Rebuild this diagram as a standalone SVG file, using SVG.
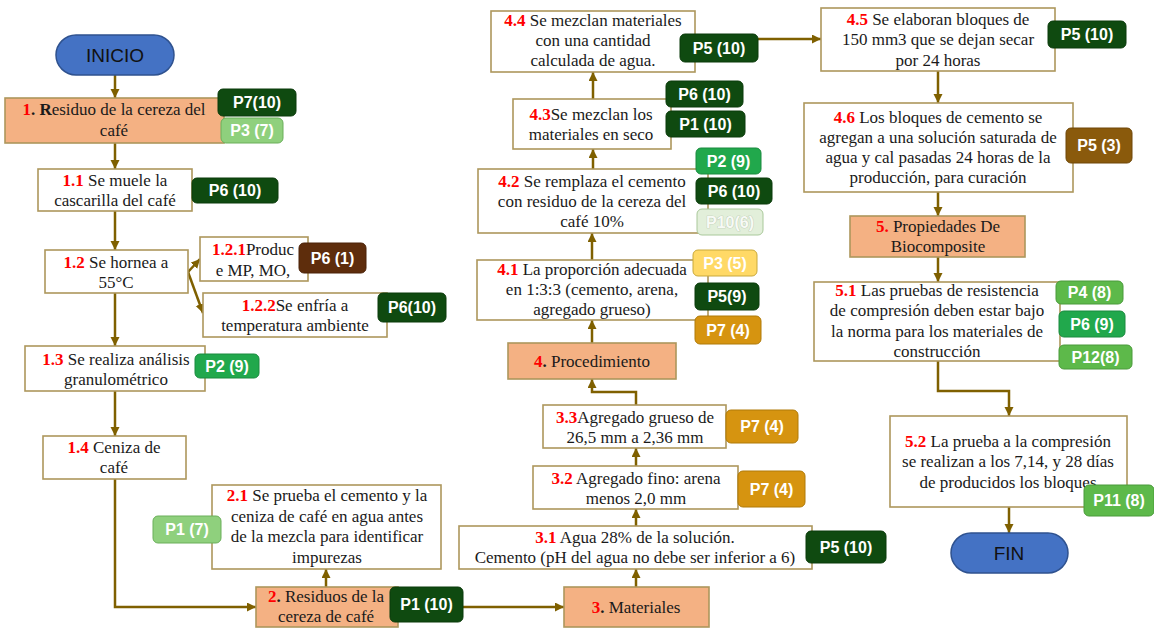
<svg xmlns="http://www.w3.org/2000/svg" width="1154" height="628" viewBox="0 0 1154 628">
<defs>
<marker id="ah" markerUnits="userSpaceOnUse" markerWidth="10" markerHeight="10" refX="9" refY="4.5" orient="auto">
<path d="M0,0 L9,4.5 L0,9 z" fill="#7F6000"/>
</marker>
<style>
.box{fill:#fff;stroke:#AD975C;stroke-width:1.6}
.pbox{fill:#F4B183;stroke:#AD975C;stroke-width:1.6}
.t{font-family:"Liberation Serif",serif;font-size:17px;fill:#1a1a1a;text-anchor:middle}
.n{fill:#FF0000;font-weight:bold}
.b{font-weight:bold}
.term{fill:#4472C4;stroke:#2F528F;stroke-width:1.5}
.tt{font-family:"Liberation Sans",sans-serif;font-size:19px;fill:#111;text-anchor:middle}
.c{fill:none;stroke:#7F6000;stroke-width:2.5;marker-end:url(#ah)}
.tg{font-family:"Liberation Sans",sans-serif;font-weight:bold;font-size:16px;fill:#fff;text-anchor:middle}
.dk{fill:#0F4A10;stroke:#0A3A0A;stroke-width:1}
.lg{fill:#8FD07D;stroke:#6AAF5A;stroke-width:1}
.md{fill:#21A84C;stroke:#1A8A3E;stroke-width:1}
.gr{fill:#5DB94A;stroke:#4A9A3A;stroke-width:1}
.br{fill:#5E2D0C;stroke:#4A2208;stroke-width:1}
.ob{fill:#8A5A0C;stroke:#6E4708;stroke-width:1}
.or{fill:#D69410;stroke:#B07A08;stroke-width:1}
.ye{fill:#FFD966;stroke:#C9A93A;stroke-width:1}
.pa{fill:#E2EFDA;stroke:#A9C89A;stroke-width:1}
.pat{fill:#F7FAF5;stroke:#B5C4AD;stroke-width:0.7;paint-order:stroke}
</style>
</defs>
<rect width="1154" height="628" fill="#fff"/>

<g id="connectors">
<path class="c" d="M115,75 V98"/>
<path class="c" d="M115,143 V169"/>
<path class="c" d="M115,211 V250"/>
<path class="c" d="M188,272 L200,259"/>
<path class="c" d="M188,272 L203,313"/>
<path class="c" d="M115,293 V346"/>
<path class="c" d="M115,391 V436"/>
<path class="c" d="M115,479 V607 H256"/>
<path class="c" d="M326,587 V569"/>
<path class="c" d="M463,607 H564"/>
<path class="c" d="M636,587 V569"/>
<path class="c" d="M636,526 V509"/>
<path class="c" d="M636,466 V448"/>
<path class="c" d="M636,405 V392 H592 V379"/>
<path class="c" d="M592,343 V320"/>
<path class="c" d="M592,260 V233"/>
<path class="c" d="M593,169 V149"/>
<path class="c" d="M593,99 V72"/>
<path class="c" d="M758,39 H821"/>
<path class="c" d="M938,71 V103"/>
<path class="c" d="M938,192 V216"/>
<path class="c" d="M938,257 V282"/>
<path class="c" d="M938,361 V391 H1009 V416"/>
<path class="c" d="M1009,507 V533"/>
</g>

<g id="inicio">
<rect class="term" x="56" y="35" width="118" height="40" rx="20"/>
<text class="tt" x="115" y="62">INICIO</text>
</g>

<g id="n1">
<rect class="pbox" x="5" y="98" width="219" height="45"/>
<text class="t" x="114" y="115"><tspan class="n">1</tspan><tspan class="b">. R</tspan>esiduo de la cereza del</text>
<text class="t" x="114" y="136">café</text>
<rect class="dk" x="218" y="89" width="78" height="27" rx="5"/>
<text class="tg" x="257" y="108">P7(10)</text>
<rect class="lg" x="221" y="118" width="62" height="25" rx="5"/>
<text class="tg" x="252" y="136">P3 (7)</text>
</g>

<g id="n1_1">
<rect class="box" x="38" y="169" width="154" height="42"/>
<text class="t" x="115" y="186"><tspan class="n">1.1</tspan> Se muele la</text>
<text class="t" x="115" y="206">cascarilla del café</text>
<rect class="dk" x="192" y="178" width="86" height="25" rx="5"/>
<text class="tg" x="235" y="196">P6 (10)</text>
</g>

<g id="n1_2">
<rect class="box" x="45" y="250" width="143" height="43"/>
<text class="t" x="116" y="268"><tspan class="n">1.2</tspan> Se hornea a</text>
<text class="t" x="116" y="288">55°C</text>
</g>

<g id="n1_2_1">
<rect class="box" x="200" y="237" width="108" height="44"/>
<text class="t" x="253" y="255"><tspan class="n">1.2.1</tspan>Produc</text>
<text class="t" x="253" y="276">e MP, MO,</text>
<rect class="br" x="299" y="243" width="67" height="30" rx="5"/>
<text class="tg" x="332.5" y="264">P6 (1)</text>
</g>

<g id="n1_2_2">
<rect class="box" x="203" y="293" width="184" height="44"/>
<text class="t" x="295" y="311"><tspan class="n">1.2.2</tspan>Se enfría a</text>
<text class="t" x="295" y="331">temperatura ambiente</text>
<rect class="dk" x="378" y="293" width="68" height="29" rx="5"/>
<text class="tg" x="412" y="313">P6(10)</text>
</g>

<g id="n1_3">
<rect class="box" x="25" y="346" width="180" height="45"/>
<text class="t" x="116" y="365"><tspan class="n">1.3</tspan> Se realiza análisis</text>
<text class="t" x="116" y="385">granulométrico</text>
<rect class="md" x="195" y="354" width="64" height="24" rx="5"/>
<text class="tg" x="227" y="372">P2 (9)</text>
</g>

<g id="n1_4">
<rect class="box" x="43" y="436" width="143" height="43"/>
<text class="t" x="114" y="453"><tspan class="n">1.4</tspan> Ceniza de</text>
<text class="t" x="114" y="473">café</text>
</g>

<g id="n2_1">
<rect class="box" x="212" y="485" width="229" height="84"/>
<text class="t" x="327" y="501"><tspan class="n">2.1</tspan> Se prueba el cemento y la</text>
<text class="t" x="327" y="521.5">ceniza de café en agua antes</text>
<text class="t" x="327" y="542">de la mezcla para identificar</text>
<text class="t" x="327" y="562.5">impurezas</text>
<rect class="lg" x="153" y="516" width="68" height="27" rx="5"/>
<text class="tg" x="187" y="535">P1 (7)</text>
</g>

<g id="n2">
<rect class="pbox" x="256" y="587" width="142" height="40"/>
<text class="t" x="326" y="602"><tspan class="n">2</tspan><tspan class="b">.</tspan> Residuos de la</text>
<text class="t" x="326" y="622">cereza de café</text>
<rect class="dk" x="390" y="587" width="73" height="35" rx="5"/>
<text class="tg" x="426.5" y="610">P1 (10)</text>
</g>

<g id="n3">
<rect class="pbox" x="564" y="587" width="145" height="40"/>
<text class="t" x="636" y="613"><tspan class="n">3</tspan><tspan class="b">.</tspan> Materiales</text>
</g>

<g id="n3_1">
<rect class="box" x="459" y="526" width="353" height="43"/>
<text class="t" x="635" y="543"><tspan class="n">3.1</tspan> Agua 28% de la solución.</text>
<text class="t" x="635" y="563">Cemento (pH del agua no debe ser inferior  a 6)</text>
<rect class="dk" x="806" y="531" width="80" height="32" rx="5"/>
<text class="tg" x="846" y="553">P5 (10)</text>
</g>

<g id="n3_2">
<rect class="box" x="533" y="466" width="205" height="43"/>
<text class="t" x="636" y="484"><tspan class="n">3.2</tspan> Agregado fino: arena</text>
<text class="t" x="636" y="504">menos 2,0 mm</text>
<rect class="or" x="738" y="471" width="67" height="36" rx="5"/>
<text class="tg" x="771.5" y="495">P7 (4)</text>
</g>

<g id="n3_3">
<rect class="box" x="543" y="405" width="183" height="43"/>
<text class="t" x="635" y="423"><tspan class="n">3.3</tspan>Agregado grueso de</text>
<text class="t" x="635" y="443">26,5 mm a 2,36 mm</text>
<rect class="or" x="726" y="410" width="72" height="33" rx="5"/>
<text class="tg" x="762" y="432">P7 (4)</text>
</g>

<g id="n4">
<rect class="pbox" x="508" y="343" width="168" height="36"/>
<text class="t" x="592" y="367"><tspan class="n">4</tspan><tspan class="b">.</tspan> Procedimiento</text>
</g>

<g id="n4_1">
<rect class="box" x="477" y="260" width="231" height="60"/>
<text class="t" x="592" y="275"><tspan class="n">4.1</tspan> La proporción adecuada</text>
<text class="t" x="592" y="295">en 1:3:3  (cemento, arena,</text>
<text class="t" x="592" y="315">agregado grueso)</text>
<rect class="ye" x="693" y="250" width="64" height="26" rx="5"/>
<text class="tg" x="725" y="269">P3 (5)</text>
<rect class="dk" x="695" y="283" width="64" height="27" rx="5"/>
<text class="tg" x="727" y="302">P5(9)</text>
<rect class="or" x="695" y="316" width="66" height="28" rx="5"/>
<text class="tg" x="728" y="336">P7 (4)</text>
</g>

<g id="n4_2">
<rect class="box" x="478" y="169" width="230" height="64"/>
<text class="t" x="592" y="187"><tspan class="n">4.2</tspan> Se remplaza el cemento</text>
<text class="t" x="592" y="207">con residuo de la cereza del</text>
<text class="t" x="592" y="227">café 10%</text>
<rect class="md" x="696" y="148" width="65" height="26" rx="5"/>
<text class="tg" x="728.5" y="167">P2 (9)</text>
<rect class="dk" x="696" y="178" width="76" height="26" rx="5"/>
<text class="tg" x="734" y="197">P6 (10)</text>
<rect class="pa" x="697" y="209" width="66" height="26" rx="5"/>
<text class="tg pat" x="730" y="228">P10(6)</text>
</g>

<g id="n4_3">
<rect class="box" x="513" y="99" width="158" height="50"/>
<text class="t" x="591" y="120"><tspan class="n">4.3</tspan>Se mezclan  los</text>
<text class="t" x="591" y="140">materiales  en seco</text>
<rect class="dk" x="666" y="81" width="77" height="26" rx="5"/>
<text class="tg" x="704.5" y="100">P6 (10)</text>
<rect class="dk" x="666" y="111" width="79" height="26" rx="5"/>
<text class="tg" x="705.5" y="130">P1 (10)</text>
</g>

<g id="n4_4">
<rect class="box" x="491" y="11" width="204" height="61"/>
<text class="t" x="593" y="26"><tspan class="n">4.4</tspan> Se mezclan  materiales</text>
<text class="t" x="593" y="46">con una cantidad</text>
<text class="t" x="593" y="66">calculada de agua.</text>
<rect class="dk" x="680" y="34" width="78" height="28" rx="5"/>
<text class="tg" x="719" y="54">P5 (10)</text>
</g>

<g id="n4_5">
<rect class="box" x="821" y="8" width="234" height="63"/>
<text class="t" x="938" y="25"><tspan class="n">4.5</tspan> Se elaboran bloques de</text>
<text class="t" x="938" y="45">150 mm3 que se dejan secar</text>
<text class="t" x="938" y="66">por 24 horas</text>
<rect class="dk" x="1048" y="21" width="78" height="27" rx="5"/>
<text class="tg" x="1087" y="40">P5 (10)</text>
</g>

<g id="n4_6">
<rect class="box" x="804" y="103" width="269" height="89"/>
<text class="t" x="938" y="123"><tspan class="n">4.6</tspan> Los bloques de cemento se</text>
<text class="t" x="938" y="143">agregan a una solución saturada de</text>
<text class="t" x="938" y="163">agua y cal pasadas 24 horas de la</text>
<text class="t" x="938" y="183">producción, para curación</text>
<rect class="ob" x="1066" y="128" width="66" height="35" rx="5"/>
<text class="tg" x="1099" y="151">P5 (3)</text>
</g>

<g id="n5">
<rect class="pbox" x="850" y="216" width="175" height="41"/>
<text class="t" x="938" y="232"><tspan class="n">5.</tspan> Propiedades De</text>
<text class="t" x="938" y="252">Biocomposite</text>
</g>

<g id="n5_1">
<rect class="box" x="814" y="282" width="246" height="79"/>
<text class="t" x="937" y="296"><tspan class="n">5.1</tspan> Las pruebas de resistencia</text>
<text class="t" x="937" y="316">de compresión deben estar bajo</text>
<text class="t" x="937" y="337">la norma para los materiales  de</text>
<text class="t" x="937" y="357">construcción</text>
<rect class="gr" x="1056" y="281" width="67" height="23" rx="5"/>
<text class="tg" x="1089.5" y="298">P4 (8)</text>
<rect class="md" x="1059" y="311" width="66" height="26" rx="5"/>
<text class="tg" x="1092" y="330">P6 (9)</text>
<rect class="gr" x="1059" y="345" width="73" height="24" rx="5"/>
<text class="tg" x="1095.5" y="363">P12(8)</text>
</g>

<g id="n5_2">
<rect class="box" x="890" y="416" width="237" height="91"/>
<text class="t" x="1008" y="447"><tspan class="n">5.2</tspan> La prueba a la compresión</text>
<text class="t" x="1008" y="467">se realizan  a los 7,14, y 28 días</text>
<text class="t" x="1008" y="488">de producidos los bloques</text>
<rect class="gr" x="1084" y="485" width="70" height="31" rx="5"/>
<text class="tg" x="1119" y="506">P11 (8)</text>
</g>

<g id="fin">
<rect class="term" x="951" y="533" width="117" height="40" rx="20"/>
<text class="tt" x="1009" y="560">FIN</text>
</g>
</svg>
